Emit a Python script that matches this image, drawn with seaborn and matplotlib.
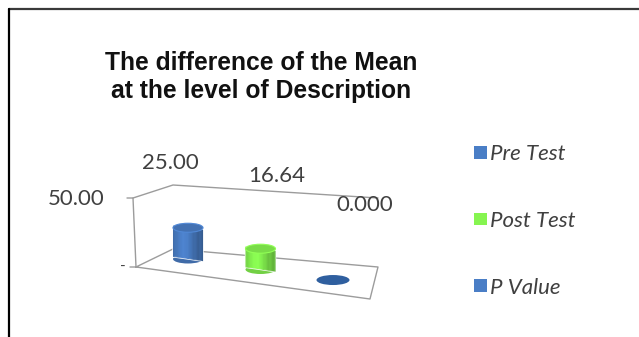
import numpy as np
import pandas as pd
import matplotlib
matplotlib.use("Agg")
import matplotlib.pyplot as plt
import seaborn as sns
from matplotlib.transforms import Affine2D, IdentityTransform
from matplotlib.patches import Ellipse, Patch, Rectangle
from matplotlib.lines import Line2D
from matplotlib.colors import to_rgb, to_hex

# ---- data -------------------------------------------------------------
categories = ["Pre Test", "Post Test", "P Value"]
values = [25.00, 16.64, 0.000]
label_formats = ["{:.2f}", "{:.2f}", "{:.3f}"]
axis_ticks = [0, 50]
axis_tick_labels = ["-", "50.00"]
colors = ["#4a7ec6", "#86f550", "#4a7ec6"]
disc_color = "#2f5f9f"

# ---- canvas -----------------------------------------------------------
W, H, DPI = 639, 337, 100
sns.set_theme(style="white")
plt.rcParams["font.family"] = ["Lato", "DejaVu Sans"]
fig = plt.figure(figsize=(W / DPI, H / DPI), dpi=DPI)
fig.patch.set_facecolor("white")


def img(x, y):
    """top-left pixel position -> display coordinates"""
    return x, H - y


# pseudo-3D plot box: category 0 sits at x0, value 0 at y0, 1.25 px per unit
x0, y0 = img(188, 259)
step, k = 72.5, 1.25
xlim, ylim = (-0.5, 2.6), (-30, 60)
ax = fig.add_axes([
    (x0 + xlim[0] * step) / W,
    (y0 + ylim[0] * k) / H,
    (xlim[1] - xlim[0]) * step / W,
    (ylim[1] - ylim[0]) * k / H,
])

df = pd.DataFrame({"Category": categories, "Value": values})
sns.barplot(data=df, x="Category", y="Value", hue="Category", palette=colors,
            width=0.414, saturation=1, legend=False, ax=ax)
ax.set_xlim(*xlim)
ax.set_ylim(*ylim)
ax.axis("off")

# floor slopes down to the right
slope = 0.145
shear = (Affine2D().translate(-x0, -y0)
         .skew(0, np.arctan(-slope)).translate(x0, y0))
tr = ax.transData + shear

# box outline (walls and floor)
frame_col = "#9c9c9c"
outline = [
    [(127, 198), (133, 198), (136, 267)],
    [(133, 198), (173, 185), (378, 198)],
    [(130, 267), (136, 267), (173, 249), (378, 267), (370, 299), (136, 267)],
]
for pts in outline:
    xs, ys = zip(*[img(*p) for p in pts])
    ax.add_line(Line2D(xs, ys, transform=IdentityTransform(), color=frame_col,
                       lw=1.0, zorder=0.5, clip_on=False))


def tint(rgb, f):
    return to_hex(np.clip(np.asarray(rgb) * f, 0, 1))


# cylinders: shaded body, rounded base and top cap
cap_h = 9
n_strips = 24
for bar, c in zip(ax.patches, colors):
    bx, bw, bh = bar.get_x(), bar.get_width(), bar.get_height()
    xc = bx + bw / 2
    (lx, _), (rx, _) = ax.transData.transform([(bx, 0), (bx + bw, 0)])
    pw = rx - lx
    base = tr.transform((xc, 0))
    if bh <= 0:
        bar.set_visible(False)
        ax.add_patch(Ellipse(base, pw + 3, cap_h + 1, transform=IdentityTransform(),
                             facecolor=disc_color, edgecolor="none",
                             zorder=2, clip_on=False))
        continue
    bar.set_transform(tr)
    bar.set_clip_on(False)
    bar.set_zorder(2)
    rgb = np.array(to_rgb(c))
    # vertical strips give the rounded shading of the body
    t = (np.arange(n_strips) + 0.5) / n_strips
    shade = 0.8 + 0.28 * np.exp(-((t - 0.38) / 0.3) ** 2) - 0.08 * t
    sw = bw / n_strips
    for j in range(n_strips):
        ax.add_patch(Rectangle((bx + j * sw, 0), sw * 1.05, bh, transform=tr,
                               facecolor=tint(rgb, shade[j]), edgecolor="none",
                               zorder=2.1, clip_on=False))
    ax.add_patch(Ellipse(base, pw, cap_h, transform=IdentityTransform(),
                         facecolor=tint(rgb, 0.85), edgecolor="none",
                         zorder=1.9, clip_on=False))
    top = tr.transform((xc, bh))
    ax.add_patch(Ellipse(top, pw, cap_h, transform=IdentityTransform(),
                         facecolor=tint(rgb, 0.9), edgecolor=tint(rgb, 1.08),
                         lw=0.8, zorder=2.2, clip_on=False))
ax.set_xlim(*xlim)
ax.set_ylim(*ylim)

# value labels above the box
text_col = "#404040"
offsets = [(-18, 96), (16, 94), (32, 75)]
for i, (v, fmt, off) in enumerate(zip(values, label_formats, offsets)):
    ax.annotate(fmt.format(v), xy=(i, 0), xycoords=tr, xytext=off,
                textcoords="offset pixels", ha="center", va="center",
                fontsize=16, color=text_col, annotation_clip=False)

# value axis labels on the left wall
tick_pos = {0: (123, 267), 50: (105, 199)}
for t, lab in zip(axis_ticks, axis_tick_labels):
    x, y = tick_pos[t]
    fig.text(x / W, 1 - y / H, lab, ha="center" if t == 0 else "right",
             va="center", fontsize=16 if t else 11, color=text_col)

# title
fig.text(261 / W, 1 - 77 / H, "The difference of the Mean\nat the level of Description",
         ha="center", va="center", fontsize=17.7, fontweight="bold",
         family=["Liberation Sans", "DejaVu Sans"], color="#111111",
         linespacing=1.2)

# legend
handles = [Patch(facecolor=c, edgecolor="none") for c in colors]
fig.legend(handles, categories, loc="center left",
           bbox_to_anchor=(474 / W, 1 - 221 / H), frameon=False,
           prop={"family": "Lato", "style": "italic", "size": 16},
           labelcolor=text_col, handlelength=0.6, handleheight=0.5,
           handletextpad=0.12, labelspacing=2.1, borderpad=0, borderaxespad=0)

# outer border
fig.add_artist(Line2D([8.5 / W, 1], [1 - 8.5 / H] * 2, transform=fig.transFigure,
                      color="#3a3a3a", lw=1.6))
fig.add_artist(Line2D([8.5 / W] * 2, [0, 1 - 8.5 / H], transform=fig.transFigure,
                      color="black", lw=1.6))

fig.savefig("out.png", dpi=DPI)
